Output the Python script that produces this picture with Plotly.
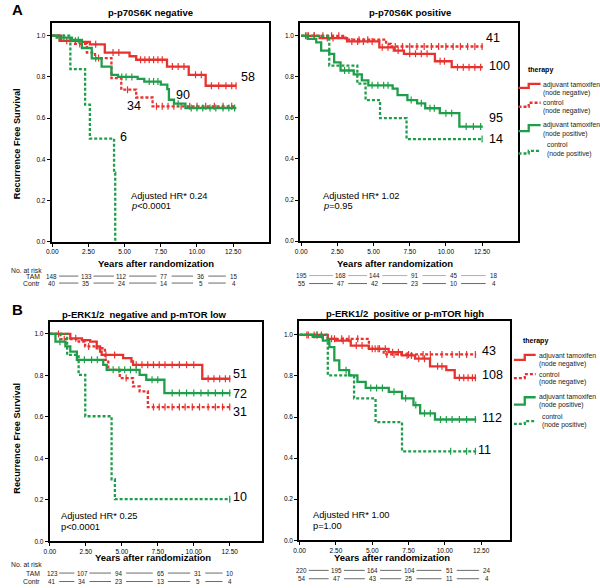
import numpy as np
import plotly.graph_objects as go

W, H = 600, 588

# ---------------- DATA ----------------
# Panel A left: p-p70S6K negative
A1_tam_neg_t = [0, 0.6, 2.05, 2.6, 3.63, 5.34, 5.8, 7.93, 9.43, 10.6]
A1_tam_neg_s = [1.0, 0.975, 0.97, 0.958, 0.918, 0.90, 0.883, 0.85, 0.81, 0.757]
A1_tam_neg_c = [1.0, 1.6, 3.0, 4.2, 4.6, 6.1, 6.4, 6.7, 7.0, 7.3, 7.6, 8.3, 8.7, 9.1, 9.9, 10.3, 11.0, 11.5, 12.0, 12.4, 12.7]
A1_con_neg_t = [0, 0.5, 1.5, 2.39, 2.95, 4.09, 4.77, 5.8, 6.93]
A1_con_neg_s = [1.0, 0.975, 0.96, 0.918, 0.891, 0.794, 0.738, 0.70, 0.657]
A1_con_neg_c = [1.9, 3.2, 5.2, 7.2, 7.6, 8.0, 8.4, 8.9, 9.5, 10.0, 10.6, 11.2, 11.8, 12.4]
A1_tam_pos_t = [0, 0.3, 1.36, 2.05, 2.73, 3.41, 4.09, 4.54, 5.9, 6.36, 7.5, 7.95, 8.06, 8.41, 9.2]
A1_tam_pos_s = [1.0, 0.99, 0.979, 0.94, 0.89, 0.85, 0.81, 0.80, 0.79, 0.777, 0.762, 0.741, 0.689, 0.67, 0.649]
A1_tam_pos_c = [0.8, 1.8, 3.0, 4.8, 5.1, 5.5, 6.7, 7.0, 7.3, 8.7, 9.6, 10.0, 10.4, 10.9, 11.3, 11.8, 12.2, 12.6]
A1_con_pos_t = [0, 1.25, 2.27, 2.6, 4.27, 4.35]
A1_con_pos_s = [1.0, 0.838, 0.665, 0.50, 0.335, 0.0]
A1_con_pos_c = []
A1_end = 12.72
A1_end_labels = ["58", "34", "90", "6"]

# Panel A right: p-p70S6K positive
A2_tam_neg_t = [0, 1.27, 3.17, 5.4, 6.4, 7.1, 9.24, 10.4]
A2_tam_neg_s = [1.0, 0.989, 0.9725, 0.944, 0.928, 0.912, 0.876, 0.847]
A2_tam_neg_c = [0.5, 0.9, 1.8, 2.2, 3.5, 3.9, 4.3, 4.9, 5.6, 6.0, 6.7, 7.5, 7.9, 8.3, 8.7, 9.6, 9.9, 10.8, 11.2, 11.6, 12.0, 12.4]
A2_con_neg_t = [0, 3.06, 5.87, 6.2]
A2_con_neg_s = [1.0, 0.981, 0.96, 0.948]
A2_con_neg_c = [0.4, 0.9, 1.5, 2.1, 2.6, 4.0, 4.6, 6.5, 7.0, 7.5, 8.0, 8.5, 9.0, 9.5, 10.0, 10.5, 11.0, 11.5, 12.0, 12.5]
A2_tam_pos_t = [0, 0.46, 1.04, 1.38, 1.94, 2.28, 2.72, 3.63, 4.19, 4.64, 6.32, 6.66, 7.34, 8.01, 8.57, 9.58, 10.93]
A2_tam_pos_s = [1.0, 0.985, 0.968, 0.928, 0.912, 0.871, 0.831, 0.812, 0.783, 0.759, 0.743, 0.711, 0.687, 0.671, 0.647, 0.623, 0.558]
A2_tam_pos_c = [0.3, 3.0, 3.3, 4.9, 5.3, 5.7, 6.0, 7.6, 8.3, 8.9, 9.2, 10.0, 10.4, 11.4, 11.9, 12.4]
A2_con_pos_t = [0, 1.94, 3.88, 4.45, 5.45, 7.28]
A2_con_pos_s = [1.0, 0.855, 0.767, 0.687, 0.599, 0.497]
A2_con_pos_c = [12.5]
A2_end = 12.55
A2_end_labels = ["100", "41", "95", "14"]

# Panel B left: p-ERK1/2 negative and p-mTOR low
B1_tam_neg_t = [0, 1.42, 2.23, 2.8, 3.26, 3.49, 3.6, 5.09, 5.67, 5.78, 10.59]
B1_tam_neg_s = [1.0, 0.979, 0.97, 0.963, 0.94, 0.915, 0.899, 0.883, 0.867, 0.851, 0.784]
B1_tam_neg_c = [0.6, 1.8, 3.9, 4.5, 6.0, 6.4, 6.8, 7.2, 7.6, 8.0, 8.5, 9.0, 9.5, 10.0, 11.0, 11.4, 11.8, 12.2, 12.5]
B1_con_neg_t = [0, 0.74, 2.0, 2.45, 3.26, 3.83, 4.06, 4.86, 5.78, 6.24, 6.81]
B1_con_neg_s = [1.0, 0.975, 0.963, 0.94, 0.931, 0.875, 0.827, 0.787, 0.747, 0.723, 0.647]
B1_con_neg_c = [1.0, 2.7, 5.3, 7.2, 7.6, 8.0, 8.5, 9.0, 9.4, 9.9, 10.4, 11.0, 11.5, 12.0, 12.5]
B1_tam_pos_t = [0, 0.39, 1.08, 1.42, 1.88, 3.71, 3.95, 6.24, 6.7, 7.96]
B1_tam_pos_s = [1.0, 0.963, 0.94, 0.915, 0.875, 0.851, 0.827, 0.803, 0.779, 0.715]
B1_tam_pos_c = [0.7, 2.4, 2.9, 3.3, 4.4, 4.8, 5.2, 5.6, 6.0, 7.1, 7.5, 8.5, 9.0, 9.5, 10.0, 10.5, 11.0, 11.5, 12.0, 12.5]
B1_con_pos_t = [0, 1.2, 2.0, 2.46, 4.29, 4.52]
B1_con_pos_s = [1.0, 0.899, 0.803, 0.603, 0.299, 0.203]
B1_con_pos_c = [12.5]
B1_end = 12.54
B1_end_labels = ["51", "31", "72", "10"]

# Panel B right: p-ERK1/2 positive or p-mTOR high
B2_tam_neg_t = [0, 1.94, 2.5, 3.52, 4.77, 6.13, 7.04, 7.95, 8.98, 10.1, 10.68]
B2_tam_neg_s = [1.0, 0.981, 0.972, 0.948, 0.932, 0.916, 0.90, 0.884, 0.847, 0.828, 0.791]
B2_tam_neg_c = [0.5, 1.0, 1.5, 2.2, 3.0, 3.9, 4.3, 5.2, 5.5, 5.9, 6.4, 6.8, 7.4, 7.7, 8.2, 8.6, 9.5, 9.8, 11.0, 11.3, 11.6, 11.9, 12.1]
B2_con_neg_t = [0, 1.94, 4.77, 5.79]
B2_con_neg_s = [1.0, 0.981, 0.932, 0.905]
B2_con_neg_c = [0.6, 1.2, 2.4, 2.9, 3.4, 4.0, 5.0, 5.4, 6.0, 6.5, 7.5, 8.5, 9.0, 9.8, 10.5, 11.0, 11.5, 12.1]
B2_tam_pos_t = [0, 0.9, 1.6, 2.05, 2.39, 2.73, 3.41, 3.98, 4.55, 6.14, 7.05, 7.84, 8.3, 9.32]
B2_tam_pos_s = [1.0, 0.99, 0.972, 0.94, 0.876, 0.828, 0.803, 0.771, 0.742, 0.723, 0.691, 0.658, 0.618, 0.588]
B2_tam_pos_c = [3.2, 4.9, 5.3, 5.7, 6.5, 7.3, 8.0, 8.6, 9.0, 9.7, 10.1, 10.5, 11.0, 11.5, 12.1]
B2_con_pos_t = [0, 1.94, 3.75, 5.23, 7.05]
B2_con_pos_s = [1.0, 0.803, 0.691, 0.575, 0.433]
B2_con_pos_c = [1.2, 10.4, 11.5, 12.1]
B2_end = 12.16
B2_end_labels = ["108", "43", "112", "11"]

# numbers at risk
A1_risk_tam = [148, 133, 112, 77, 36, 15]
A1_risk_con = [40, 35, 24, 14, 5, 4]
A2_risk_tam = [195, 168, 144, 91, 45, 18]
A2_risk_con = [55, 47, 42, 23, 10, 4]
B1_risk_tam = [123, 107, 94, 65, 31, 10]
B1_risk_con = [41, 34, 23, 13, 5, 4]
B2_risk_tam = [220, 195, 164, 104, 51, 24]
B2_risk_con = [54, 47, 43, 25, 11, 4]

x_ticks = [0, 2.5, 5, 7.5, 10, 12.5]
x_tick_text = ["0.00", "2.50", "5.00", "7.50", "10.00", "12.50"]
y_ticks = [0, 0.2, 0.4, 0.6, 0.8, 1.0]
y_tick_text = ["0.0", "0.2", "0.4", "0.6", "0.8", "1.0"]

titles = ["p-p70S6K negative", "p-p70S6K positive",
          "p-ERK1/2  negative and p-mTOR low", "p-ERK1/2  positive or p-mTOR high"]
hr_text = ["Adjusted HR* 0.24", "Adjusted HR* 1.02", "Adjusted HR* 0.25", "Adjusted HR* 1.00"]
p_text = ["<i>p</i>&lt;0.0001", "<i>p</i>=0.95", "p&lt;0.0001", "p=1.00"]
legend_title = "therapy"
legend_names = [("adjuvant tamoxifen", "(node negative)"), ("control", "(node negative)"),
                ("adjuvant tamoxifen", "(node positive)"), ("control", "(node positive)")]

# ---------------- STYLE / LAYOUT ----------------
RED = "#E8322E"
GREEN = "#1F9E4A"
FONT = "Liberation Sans, Arial, sans-serif"
NARROW = "Liberation Sans Narrow, Liberation Sans, Arial, sans-serif"

def fx(x):
    return x / W

def fy(y):
    return 1 - y / H

panels = [
    dict(xd=(46, 266), yd=(23, 243), xr=(-0.05, 15.0), yr=(0, 1.062)),
    dict(xd=(297, 516.7), yd=(23, 242.3), xr=(-0.08, 14.95), yr=(0, 1.063)),
    dict(xd=(44, 259), yd=(324, 544), xr=(-0.02, 14.77), yr=(0, 1.056)),
    dict(xd=(296, 509), yd=(323, 543), xr=(-0.04, 14.48), yr=(0, 1.066)),
]

curves = [
    [(A1_tam_neg_t, A1_tam_neg_s, A1_tam_neg_c), (A1_con_neg_t, A1_con_neg_s, A1_con_neg_c),
     (A1_tam_pos_t, A1_tam_pos_s, A1_tam_pos_c), (A1_con_pos_t, A1_con_pos_s, A1_con_pos_c), A1_end],
    [(A2_tam_neg_t, A2_tam_neg_s, A2_tam_neg_c), (A2_con_neg_t, A2_con_neg_s, A2_con_neg_c),
     (A2_tam_pos_t, A2_tam_pos_s, A2_tam_pos_c), (A2_con_pos_t, A2_con_pos_s, A2_con_pos_c), A2_end],
    [(B1_tam_neg_t, B1_tam_neg_s, B1_tam_neg_c), (B1_con_neg_t, B1_con_neg_s, B1_con_neg_c),
     (B1_tam_pos_t, B1_tam_pos_s, B1_tam_pos_c), (B1_con_pos_t, B1_con_pos_s, B1_con_pos_c), B1_end],
    [(B2_tam_neg_t, B2_tam_neg_s, B2_tam_neg_c), (B2_con_neg_t, B2_con_neg_s, B2_con_neg_c),
     (B2_tam_pos_t, B2_tam_pos_s, B2_tam_pos_c), (B2_con_pos_t, B2_con_pos_s, B2_con_pos_c), B2_end],
]
end_labels = [A1_end_labels, A2_end_labels, B1_end_labels, B2_end_labels]
# label positions (data coords) in order tam_neg, con_neg, tam_pos, con_pos
end_label_pos = [
    [(12.88, 0.80), (5.0, 0.657), (8.39, 0.713), (4.55, 0.509)],
    [(12.82, 0.855), (12.6, 0.989), (12.87, 0.598), (12.87, 0.497)],
    [(12.61, 0.806), (12.61, 0.624), (12.61, 0.712), (12.61, 0.211)],
    [(12.45, 0.806), (12.39, 0.924), (12.45, 0.593), (12.16, 0.44)],
]
styles = [(RED, "solid"), (RED, "3px,2px"), (GREEN, "solid"), (GREEN, "3px,2px")]

risks = [(A1_risk_tam, A1_risk_con), (A2_risk_tam, A2_risk_con),
         (B1_risk_tam, B1_risk_con), (B2_risk_tam, B2_risk_con)]
risk_pos = [
    [-0.03, 2.35, 4.81, 7.75, 10.28, 12.54],
    [0.05, 2.75, 5.1, 7.88, 10.55, 13.3],
    [0.15, 2.25, 4.8, 7.7, 10.3, 12.55],
    [0.13, 2.55, 5.04, 7.55, 10.32, 12.91],
]
risk_rows_y = [(277.5, 284.5), (277.0, 285.0), (576.0, 584.5), (573.3, 581.7)]
title_pos = [(146, 12.5), (408, 12.5), (140, 316), (403, 315)]
xtitle_pos = [(152, 265), (393, 265), (148, 560), (390, 560)]
hr_pos = [(124, 196.7, 207.3), (318, 196.7, 207.3), (53.3, 518.3, 529.3), (308.3, 517.7, 529)]

fig = go.Figure()
layout = dict(width=W, height=H, margin=dict(l=0, r=0, t=0, b=0), autosize=False,
              paper_bgcolor="white", plot_bgcolor="white", showlegend=False,
              font=dict(family=FONT, color="black"))
annotations = []
shapes = []


def step_at(t, s, x):
    i = np.searchsorted(np.asarray(t), x, side="right") - 1
    return np.asarray(s)[np.clip(i, 0, len(s) - 1)]


for k, p in enumerate(panels):
    sfx = "" if k == 0 else str(k + 1)
    xa, ya = "x" + sfx, "y" + sfx
    layout["xaxis" + sfx] = dict(
        domain=[fx(p["xd"][0]), fx(p["xd"][1])], range=list(p["xr"]), anchor=ya,
        showline=True, mirror=True, linecolor="black", linewidth=1.5,
        ticks="outside", ticklen=3, tickwidth=1, tickcolor="black",
        tickvals=x_ticks, ticktext=x_tick_text, tickfont=dict(size=6.5, family=NARROW),
        showgrid=False, zeroline=False, fixedrange=True)
    layout["yaxis" + sfx] = dict(
        domain=[fy(p["yd"][1]), fy(p["yd"][0])], range=list(p["yr"]), anchor=xa,
        showline=True, mirror=True, linecolor="black", linewidth=1.5,
        ticks="outside", ticklen=3, tickwidth=1, tickcolor="black",
        tickvals=y_ticks, ticktext=y_tick_text, tickfont=dict(size=6.5, family=NARROW),
        showgrid=False, zeroline=False, fixedrange=True)

    end_t = curves[k][4]
    for j in range(4):
        t, s, c = curves[k][j]
        color, dash = styles[j]
        xs = list(t)
        ys = list(s)
        if ys[-1] > 0:
            xs.append(end_t)
            ys.append(ys[-1])
        fig.add_trace(go.Scatter(x=xs, y=ys, mode="lines", line=dict(color=color, width=2.3, dash=dash, shape="hv"),
                                 xaxis=xa, yaxis=ya, hoverinfo="skip"))
        if len(c):
            cy = step_at(t, s, np.asarray(c))
            fig.add_trace(go.Scatter(x=c, y=cy, mode="markers",
                                     marker=dict(symbol="line-ns", size=5, line=dict(color=color, width=1.2)),
                                     xaxis=xa, yaxis=ya, hoverinfo="skip"))
        lx, ly = end_label_pos[k][j]
        annotations.append(dict(x=lx, y=ly, xref=xa, yref=ya, text=end_labels[k][j], showarrow=False,
                                xanchor="left", yanchor="middle", font=dict(size=12.5, family=FONT)))

    # titles
    tx, ty = title_pos[k]
    annotations.append(dict(x=fx(tx), y=fy(ty), xref="paper", yref="paper", text="<b>%s</b>" % titles[k],
                            showarrow=False, xanchor="center", yanchor="middle", font=dict(size=9.5)))
    tx, ty = xtitle_pos[k]
    annotations.append(dict(x=fx(tx), y=fy(ty), xref="paper", yref="paper",
                            text="<b>Years after randomization</b>",
                            showarrow=False, xanchor="center", yanchor="middle", font=dict(size=9.5)))
    hx, h1, h2 = hr_pos[k]
    annotations.append(dict(x=fx(hx), y=fy(h1), xref="paper", yref="paper", text=hr_text[k],
                            showarrow=False, xanchor="left", yanchor="middle", font=dict(size=9.3)))
    annotations.append(dict(x=fx(hx), y=fy(h2), xref="paper", yref="paper", text=p_text[k],
                            showarrow=False, xanchor="left", yanchor="middle", font=dict(size=9.3)))

    # numbers at risk
    pos = risk_pos[k]
    for r, row in enumerate(risks[k]):
        yy = risk_rows_y[k][r]
        for i, v in enumerate(row):
            annotations.append(dict(x=pos[i], y=fy(yy), xref=xa, yref="paper", text=str(v),
                                    showarrow=False, xanchor="center", yanchor="middle",
                                    font=dict(size=6.3, family=NARROW, color="#222")))
        for i in range(len(row) - 1):
            shapes.append(dict(type="line", xref=xa, yref="paper",
                               x0=pos[i] + 0.5, x1=pos[i + 1] - 0.55, y0=fy(yy), y1=fy(yy),
                               line=dict(color="#999" if (k == 1 and r == 0) else "#444", width=0.8)))

# Y-axis titles
for yc in (144, 440):
    annotations.append(dict(x=fx(11), y=fy(yc), xref="paper", yref="paper",
                            text="<b>Recurrence Free Survival</b>", textangle=-90,
                            showarrow=False, xanchor="center", yanchor="middle", font=dict(size=9.2)))

# panel letters
for letter, yc in (("A", 9.5), ("B", 311.5)):
    annotations.append(dict(x=fx(4), y=fy(yc), xref="paper", yref="paper", text="<b>%s</b>" % letter,
                            showarrow=False, xanchor="left", yanchor="middle", font=dict(size=15)))

# at-risk row labels (left panels only)
for (y0, y1, y2) in ((271.7, 277.5, 284.5), (567.7, 576.0, 584.5)):
    annotations.append(dict(x=fx(3), y=fy(y0), xref="paper", yref="paper", text="No. at risk",
                            showarrow=False, xanchor="left", yanchor="middle",
                            font=dict(size=6.8, family=NARROW, color="#222")))
    annotations.append(dict(x=fx(36), y=fy(y1), xref="paper", yref="paper", text="TAM",
                            showarrow=False, xanchor="right", yanchor="middle",
                            font=dict(size=6.8, family=NARROW, color="#222")))
    annotations.append(dict(x=fx(36), y=fy(y2), xref="paper", yref="paper", text="Contr",
                            showarrow=False, xanchor="right", yanchor="middle",
                            font=dict(size=6.8, family=NARROW, color="#222")))

# custom legends (step icons)
legends = [
    dict(tx=525, ty=70, x0=517.7, xm=528, x1=540,
         items=[(88.3, 84.3, 540.7, 85.7, 93.3), (107.3, 103.3, 540.7, 103.3, 111.7),
                (131.7, 125.7, 540.7, 126.0, 134.3), (154.3, 151.7, 544.3, 145.7, 154.3)]),
    dict(tx=520, ty=342.3, x0=513, xm=524, x1=535,
         items=[(361.7, 356.7, 536, 357.7, 366.0), (380.0, 376.0, 536, 376.0, 384.3),
                (406.7, 399.3, 536, 399.3, 407.3), (426.0, 423.3, 539, 419.0, 426.7)]),
]
for lg in legends:
    annotations.append(dict(x=fx(lg["tx"]), y=fy(lg["ty"]), xref="paper", yref="paper",
                            text="<b>%s</b>" % legend_title, showarrow=False, xanchor="left",
                            yanchor="middle", font=dict(size=7)))
    for j, (ylow, yhigh, txx, t1y, t2y) in enumerate(lg["items"]):
        color, dash = styles[j]
        path = "M %f,%f L %f,%f L %f,%f L %f,%f" % (
            fx(lg["x0"]), fy(ylow), fx(lg["xm"]), fy(ylow), fx(lg["xm"]), fy(yhigh), fx(lg["x1"]), fy(yhigh))
        shapes.append(dict(type="path", xref="paper", yref="paper", path=path,
                           line=dict(color=color, width=2.3, dash=dash)))
        annotations.append(dict(x=fx(txx), y=fy(t1y), xref="paper", yref="paper", text=legend_names[j][0],
                                showarrow=False, xanchor="left", yanchor="middle",
                                font=dict(size=6.8, color="#222")))
        annotations.append(dict(x=fx(txx), y=fy(t2y), xref="paper", yref="paper", text=legend_names[j][1],
                                showarrow=False, xanchor="left", yanchor="middle",
                                font=dict(size=6.8, color="#222")))

layout["annotations"] = annotations
layout["shapes"] = shapes
fig.update_layout(**layout)
fig.write_html("out.html", config={"displayModeBar": False},
               post_script="document.body.style.margin='0px';document.body.style.padding='0px';"
                           "document.body.style.overflow='hidden';")
